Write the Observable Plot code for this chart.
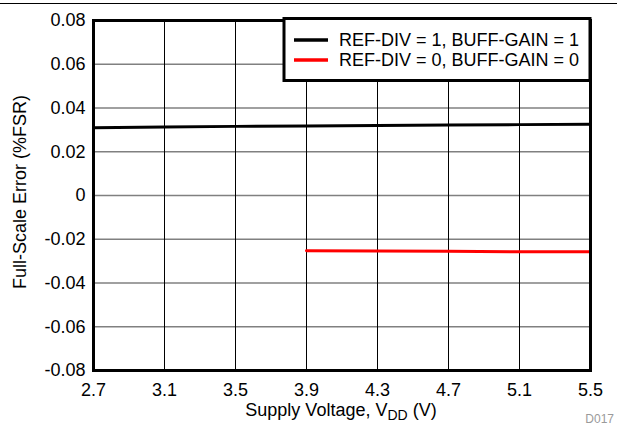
<!DOCTYPE html>
<html>
<head>
<meta charset="utf-8">
<script src="https://cdn.jsdelivr.net/npm/d3@7"></script>
<script src="https://cdn.jsdelivr.net/npm/@observablehq/plot@0.6"></script>
<style>
  html, body { margin: 0; padding: 0; background: #fff; }
  #chart { position: relative; width: 617px; height: 425px; }
  svg { font-family: "Liberation Sans", Arial, sans-serif; }
</style>
</head>
<body>
<div id="chart"></div>
<script>
// Data
const vddBlack = [2.7, 3.1, 3.5, 3.9, 4.3, 4.7, 5.1, 5.5];
const errBlack = [0.0310, 0.0313, 0.0316, 0.0318, 0.0320, 0.0322, 0.0324, 0.0326];
const vddRed = [3.9, 4.3, 4.7, 5.1, 5.5];
const errRed = [-0.0253, -0.0254, -0.0255, -0.0257, -0.0257];
const xTicks = [2.7, 3.1, 3.5, 3.9, 4.3, 4.7, 5.1, 5.5];
const yTicks = [-0.08, -0.06, -0.04, -0.02, 0, 0.02, 0.04, 0.06, 0.08];
const seriesNames = ["REF-DIV = 1, BUFF-GAIN = 1", "REF-DIV = 0, BUFF-GAIN = 0"];
const seriesColors = ["#000000", "#ff0000"];

const black = vddBlack.map((x, i) => ({x, y: errBlack[i]}));
const red = vddRed.map((x, i) => ({x, y: errRed[i]}));

const fmtY = d => Math.abs(d) < 1e-9 ? "0" : (d < 0 ? "-" : "") + Math.abs(d).toFixed(2);
const fmtX = d => d.toFixed(1);

const plot = Plot.plot({
  width: 617,
  height: 425,
  marginLeft: 93,
  marginRight: 27,
  marginTop: 20,
  marginBottom: 55,
  style: {fontSize: "18px", fontFamily: "'Liberation Sans', Arial, sans-serif", color: "#000", background: "#fff"},
  x: {domain: [2.7, 5.5], label: null},
  y: {domain: [-0.08, 0.08], label: null},
  marks: [
    Plot.ruleY(yTicks, {stroke: "#808080", strokeWidth: 1.5}),
    Plot.ruleX(xTicks, {stroke: "#000", strokeWidth: 1}),
    Plot.line(black, {x: "x", y: "y", stroke: seriesColors[0], strokeWidth: 3}),
    Plot.line(red, {x: "x", y: "y", stroke: seriesColors[1], strokeWidth: 3}),
    Plot.frame({stroke: "#000", strokeWidth: 3}),
    Plot.axisX({ticks: xTicks, tickFormat: fmtX, tickSize: 0, tickPadding: 13, fontSize: 18, label: null}),
    Plot.axisY({ticks: yTicks, tickFormat: fmtY, tickSize: 0, tickPadding: 8, fontSize: 18, label: null})
  ]
});

const svg = d3.select(plot);
// Top page line
svg.append("line").attr("x1", 0).attr("x2", 617).attr("y1", 3.5).attr("y2", 3.5)
  .attr("stroke", "#000").attr("stroke-width", 1.2);

// X axis title with subscript
const xt = svg.append("text").attr("x", 341).attr("y", 416).attr("text-anchor", "middle")
  .attr("font-size", 18).attr("fill", "#000");
xt.append("tspan").text("Supply Voltage, V");
xt.append("tspan").attr("font-size", 14).attr("dy", 4).text("DD");
xt.append("tspan").attr("dy", -4).text(" (V)");

// Y axis title
svg.append("text").attr("transform", "translate(26,192) rotate(-90)").attr("text-anchor", "middle")
  .attr("font-size", 18).attr("fill", "#000").text("Full-Scale Error (%FSR)");

// Figure id
svg.append("text").attr("x", 614).attr("y", 423).attr("text-anchor", "end")
  .attr("font-size", 12).attr("fill", "#9a9a9a").text("D017");

// Legend
const lg = svg.append("g").attr("text-anchor", "start");
lg.append("rect").attr("x", 284).attr("y", 18.5).attr("width", 306).attr("height", 62)
  .attr("fill", "#fff").attr("stroke", "#000").attr("stroke-width", 3);
seriesNames.forEach((name, i) => {
  const yy = 40 + i * 20;
  lg.append("line").attr("x1", 294).attr("x2", 328).attr("y1", yy).attr("y2", yy)
    .attr("stroke", seriesColors[i]).attr("stroke-width", 3.5);
  lg.append("text").attr("x", 339).attr("y", yy + 6).attr("font-size", 18).attr("fill", "#000").text(name);
});

document.getElementById("chart").appendChild(plot);
</script>
</body>
</html>
